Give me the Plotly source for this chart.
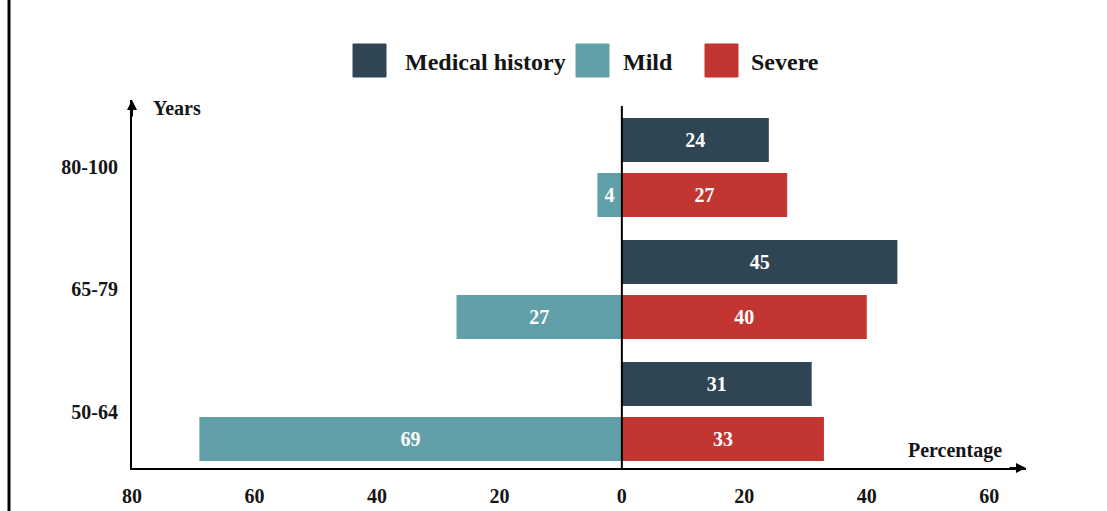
import plotly.graph_objects as go

# ---------------- data ----------------
groups = ["80-100", "65-79", "50-64"]
medical_history = [24, 45, 31]
mild = [4, 27, 69]
severe = [27, 40, 33]
x_tickvals = [-80, -60, -40, -20, 0, 20, 40, 60]
x_ticktext = ["80", "60", "40", "20", "0", "20", "40", "60"]
series_names = ["Medical history", "Mild", "Severe"]

# ---------------- style ----------------
C_MH = "#2f4554"
C_MILD = "#61a0a8"
C_SEV = "#c23531"
FONT = "Liberation Serif"
W, H = 1107, 511
L, R, T, B = 132, 81, 100, 43
PW, PH = W - L - R, H - T - B


def px_x(p):
    return (p - L) / PW


def px_y(p):
    return (H - B - p) / PH


bar_text_font = dict(family=FONT, size=20, color="white", weight="bold")

fig = go.Figure()
fig.add_trace(go.Bar(
    name=series_names[0], y=groups, x=medical_history, orientation="h",
    marker=dict(color=C_MH, line=dict(width=0)), offsetgroup="mh",
    text=[str(v) for v in medical_history], textposition="inside",
    insidetextanchor="middle", textangle=0, textfont=bar_text_font,
    constraintext="none", showlegend=False,
))
fig.add_trace(go.Bar(
    name=series_names[1], y=groups, x=[-v for v in mild], orientation="h",
    marker=dict(color=C_MILD, line=dict(width=0)), offsetgroup="ms",
    text=[str(v) for v in mild], textposition="inside",
    insidetextanchor="middle", textangle=0, textfont=bar_text_font,
    constraintext="none", showlegend=False,
))
fig.add_trace(go.Bar(
    name=series_names[2], y=groups, x=severe, orientation="h",
    marker=dict(color=C_SEV, line=dict(width=0)), offsetgroup="ms",
    text=[str(v) for v in severe], textposition="inside",
    insidetextanchor="middle", textangle=0, textfont=bar_text_font,
    constraintext="none", showlegend=False,
))

tick_font = dict(family=FONT, size=20, color="#151515", weight="bold")

fig.update_layout(
    width=W, height=H,
    margin=dict(l=L, r=R, t=T, b=B, pad=0, autoexpand=False),
    paper_bgcolor="white", plot_bgcolor="white",
    barmode="group", bargap=0.098, bargroupgap=0.2,
    xaxis=dict(
        range=[-80, 66], tickvals=x_tickvals, ticktext=x_ticktext,
        showgrid=False, zeroline=False, showline=True, linecolor="black",
        linewidth=2, ticks="", tickfont=tick_font, ticklabelstandoff=9,
        automargin=False,
    ),
    yaxis=dict(
        type="category", range=[2.463, -0.553],
        showgrid=False, zeroline=False, showline=True, linecolor="black",
        linewidth=2, ticks="", tickfont=tick_font, ticklabelstandoff=8,
        automargin=False,
    ),
    font=dict(family=FONT),
)

shapes = []
# zero line over the bars
shapes.append(dict(type="line", xref="x", yref="paper", x0=0, x1=0,
                   y0=0, y1=px_y(106), line=dict(color="black", width=2), layer="above"))
# left border line of the picture
shapes.append(dict(type="line", xref="paper", yref="paper", x0=px_x(9), x1=px_x(9),
                   y0=px_y(H), y1=px_y(0), line=dict(color="black", width=3)))

# legend (squares + labels)
legend_items = [
    (series_names[0], C_MH, 353, 403),
    (series_names[1], C_MILD, 576, 621),
    (series_names[2], C_SEV, 705, 749),
]
annotations = []
for name, col, sx, tx in legend_items:
    shapes.append(dict(type="rect", xref="paper", yref="paper",
                       x0=px_x(sx), x1=px_x(sx + 33), y0=px_y(77), y1=px_y(44),
                       fillcolor=col, line=dict(color=col, width=1)))
    annotations.append(dict(xref="paper", yref="paper", x=px_x(tx), y=px_y(62),
                            text=name, showarrow=False, xanchor="left", yanchor="middle",
                            font=dict(family=FONT, size=24, color="#151515", weight="bold")))

# axis arrows
annotations.append(dict(xref="paper", yref="paper", x=0, y=1, ax=0, ay=18,
                        axref="pixel", ayref="pixel", showarrow=True, arrowhead=2,
                        arrowsize=1, arrowwidth=2, arrowcolor="black", text=""))
annotations.append(dict(xref="paper", yref="paper", x=1, y=0, ax=-18, ay=0,
                        axref="pixel", ayref="pixel", showarrow=True, arrowhead=2,
                        arrowsize=1, arrowwidth=2, arrowcolor="black", text=""))
# axis titles
annotations.append(dict(xref="paper", yref="paper", x=px_x(151), y=px_y(108),
                        text="Years", showarrow=False, xanchor="left", yanchor="middle",
                        font=dict(family=FONT, size=20, color="#151515", weight="bold")))
annotations.append(dict(xref="paper", yref="paper", x=px_x(955), y=px_y(450),
                        text="Percentage", showarrow=False, xanchor="center", yanchor="middle",
                        font=dict(family=FONT, size=20, color="#151515", weight="bold")))

fig.update_layout(shapes=shapes, annotations=annotations)
fig.write_html("out.html")
